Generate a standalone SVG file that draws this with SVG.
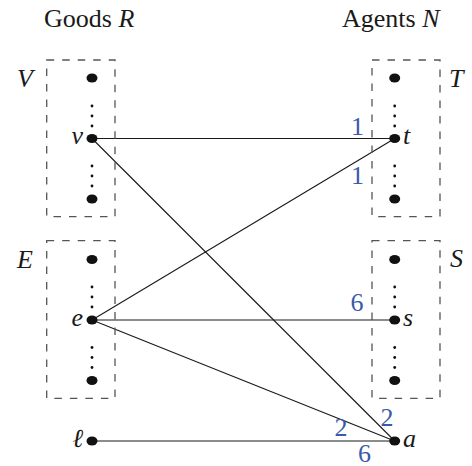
<svg xmlns="http://www.w3.org/2000/svg" width="472" height="466" viewBox="0 0 472 466">
<style>
.t{font-family:"Liberation Serif","Times New Roman",serif;font-size:26px;fill:#1a1a1a}
.m{font-family:"Liberation Serif","Times New Roman",serif;font-size:26px;font-style:italic;fill:#1a1a1a}
.n{font-family:"Liberation Serif","Times New Roman",serif;font-size:26px;fill:#3a5aa8}
.box{fill:none;stroke:#555;stroke-width:1.3;stroke-dasharray:7.5 8}
.dot{fill:#111}
.sd{fill:#111}
.e{stroke:#1a1a1a;stroke-width:1.1;fill:none}
</style>
<rect width="472" height="466" fill="#fff"/>
<text class="t" x="44" y="27">Goods <tspan font-style="italic">R</tspan></text>
<text class="t" x="342" y="27">Agents <tspan font-style="italic">N</tspan></text>
<g id="connectors">
<line class="e" x1="92" y1="138.5" x2="394.7" y2="138.5"/>
<line class="e" x1="92" y1="138.5" x2="394.7" y2="441"/>
<line class="e" x1="92" y1="320" x2="394.7" y2="138.5"/>
<line class="e" x1="92" y1="320" x2="394.7" y2="320"/>
<line class="e" x1="92" y1="320" x2="394.7" y2="441"/>
<line class="e" x1="92" y1="441" x2="394.7" y2="441"/>
</g>
<g id="V">
<rect class="box" x="46.7" y="60" width="68.3" height="156.7"/>
<text class="m" x="17" y="87">V</text>
<ellipse class="dot" cx="92" cy="78" rx="5.5" ry="4.5"/>
<circle class="sd" cx="92" cy="106" r="1.4"/><circle class="sd" cx="92" cy="116" r="1.4"/><circle class="sd" cx="92" cy="126" r="1.4"/>
<circle class="sd" cx="92" cy="166" r="1.4"/><circle class="sd" cx="92" cy="176" r="1.4"/><circle class="sd" cx="92" cy="186" r="1.4"/>
<ellipse class="dot" cx="92" cy="199" rx="5.5" ry="4.5"/>
</g>
<g id="v">
<ellipse class="dot" cx="92" cy="138.5" rx="5.5" ry="4.5"/>
<text class="m" x="83" y="144" text-anchor="end">v</text>
</g>
<g id="E">
<rect class="box" x="46.7" y="240.7" width="68.3" height="157.6"/>
<text class="m" x="17" y="267.5">E</text>
<ellipse class="dot" cx="92" cy="259.5" rx="5.5" ry="4.5"/>
<circle class="sd" cx="92" cy="287" r="1.4"/><circle class="sd" cx="92" cy="297" r="1.4"/><circle class="sd" cx="92" cy="307" r="1.4"/>
<circle class="sd" cx="92" cy="347.5" r="1.4"/><circle class="sd" cx="92" cy="357.5" r="1.4"/><circle class="sd" cx="92" cy="367.5" r="1.4"/>
<ellipse class="dot" cx="92" cy="380.5" rx="5.5" ry="4.5"/>
</g>
<g id="e">
<ellipse class="dot" cx="92" cy="320" rx="5.5" ry="4.5"/>
<text class="m" x="83" y="326" text-anchor="end">e</text>
</g>
<g id="l">
<ellipse class="dot" cx="92" cy="441" rx="5.5" ry="4.5"/>
<text class="m" x="83" y="447" text-anchor="end">ℓ</text>
</g>
<g id="T">
<rect class="box" x="372" y="60" width="68" height="156.7"/>
<text class="m" x="449" y="87">T</text>
<ellipse class="dot" cx="394.7" cy="78" rx="5.5" ry="4.5"/>
<circle class="sd" cx="394.7" cy="106" r="1.4"/><circle class="sd" cx="394.7" cy="116" r="1.4"/><circle class="sd" cx="394.7" cy="126" r="1.4"/>
<circle class="sd" cx="394.7" cy="166" r="1.4"/><circle class="sd" cx="394.7" cy="176" r="1.4"/><circle class="sd" cx="394.7" cy="186" r="1.4"/>
<ellipse class="dot" cx="394.7" cy="199" rx="5.5" ry="4.5"/>
</g>
<g id="t">
<ellipse class="dot" cx="394.7" cy="138.5" rx="5.5" ry="4.5"/>
<text class="m" x="403" y="144">t</text>
</g>
<g id="S">
<rect class="box" x="372" y="240.7" width="68" height="157.6"/>
<text class="m" x="450" y="267">S</text>
<ellipse class="dot" cx="394.7" cy="259.5" rx="5.5" ry="4.5"/>
<circle class="sd" cx="394.7" cy="287" r="1.4"/><circle class="sd" cx="394.7" cy="297" r="1.4"/><circle class="sd" cx="394.7" cy="307" r="1.4"/>
<circle class="sd" cx="394.7" cy="347.5" r="1.4"/><circle class="sd" cx="394.7" cy="357.5" r="1.4"/><circle class="sd" cx="394.7" cy="367.5" r="1.4"/>
<ellipse class="dot" cx="394.7" cy="380.5" rx="5.5" ry="4.5"/>
</g>
<g id="s">
<ellipse class="dot" cx="394.7" cy="320" rx="5.5" ry="4.5"/>
<text class="m" x="403" y="326">s</text>
</g>
<g id="a">
<ellipse class="dot" cx="394.7" cy="441" rx="5.5" ry="4.5"/>
<text class="m" x="403" y="447">a</text>
</g>
<g id="labels">
<text class="n" x="351" y="135">1</text>
<text class="n" x="351" y="184">1</text>
<text class="n" x="350.5" y="310.5">6</text>
<text class="n" x="380.5" y="425.5">2</text>
<text class="n" x="334.5" y="435.5">2</text>
<text class="n" x="358" y="461.5">6</text>
</g>
</svg>
